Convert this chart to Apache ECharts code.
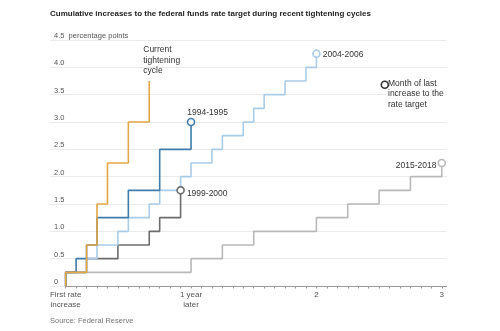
<!DOCTYPE html>
<html>
<head>
<meta charset="utf-8">
<script src="https://cdn.jsdelivr.net/npm/echarts@6/dist/echarts.min.js"></script>
<style>
  html, body { margin: 0; padding: 0; background: #ffffff; }
  #chart { width: 500px; height: 331px; }
</style>
</head>
<body>
<div id="chart"></div>
<script>
// Months after the first rate increase, and the cumulative increase (percentage points)
const currentMonths = [0, 0, 2, 3, 4, 6, 8];
const currentValues = [0, 0.25, 0.75, 1.5, 2.25, 3.0, 3.75];

const c1994Months = [0, 0, 1, 2, 3, 6, 9, 12];
const c1994Values = [0, 0.25, 0.5, 0.75, 1.25, 1.75, 2.5, 3.0];

const c1999Months = [0, 0, 2, 5, 8, 9, 11];
const c1999Values = [0, 0.25, 0.5, 0.75, 1.0, 1.25, 1.75];

const c2004Months = [0, 0, 2, 3, 5, 6, 8, 9, 11, 12, 14, 15, 17, 18, 19, 21, 23, 24];
const c2004Values = [0, 0.25, 0.5, 0.75, 1.0, 1.25, 1.5, 1.75, 2.0, 2.25, 2.5, 2.75, 3.0, 3.25, 3.5, 3.75, 4.0, 4.25];

const c2015Months = [0, 0, 12, 15, 18, 24, 27, 30, 33, 36];
const c2015Values = [0, 0.25, 0.5, 0.75, 1.0, 1.25, 1.5, 1.75, 2.0, 2.25];

// Axis labels
const xTickMonths = [0, 12, 24, 36];
const xTickLabels = ['First rate\nincrease', '1 year\nlater', '2', '3'];
const monthTicks = Array.from({ length: 37 }, (_, i) => i);

const FONT = '"Liberation Sans Narrow", "Liberation Sans", sans-serif';
const TEXT = '"Liberation Sans", sans-serif';

function pairs(ms, vs) { return ms.map((m, i) => [m, vs[i]]); }

function cycleSeries(name, ms, vs, color, z, endMark) {
  const data = pairs(ms, vs);
  const s = {
    name, type: 'line', step: 'end', data, z,
    symbol: 'none', showSymbol: false, silent: true,
    lineStyle: { color, width: 1.6 }
  };
  if (endMark) {
    const last = data[data.length - 1];
    const hidden = endMark.hidden;
    s.markPoint = {
      silent: true,
      symbol: 'circle',
      symbolSize: hidden ? 1 : 7,
      itemStyle: hidden
        ? { color: 'rgba(0,0,0,0)', borderWidth: 0 }
        : { color: '#ffffff', borderColor: color, borderWidth: 1.6 },
      label: Object.assign({
        show: true, formatter: name, color: '#333', fontFamily: TEXT, fontSize: 8.5, lineHeight: 10.5
      }, endMark.label),
      data: [{ coord: last }]
    };
  }
  return s;
}

const chart = echarts.init(document.getElementById('chart'), null, { renderer: 'canvas' });

chart.setOption({
  animation: false,
  title: [
    {
      text: 'Cumulative increases to the federal funds rate target during recent tightening cycles',
      left: 50, top: 10, padding: 0,
      textStyle: { fontFamily: FONT, fontWeight: 'bold', fontSize: 8, color: '#222' }
    },
    {
      text: 'Source: Federal Reserve',
      left: 50, top: 317, padding: 0,
      textStyle: { fontFamily: TEXT, fontWeight: 'normal', fontSize: 7.5, color: '#777' }
    }
  ],
  grid: { left: 50, right: 53, top: 40, bottom: 45, containLabel: false },
  xAxis: {
    type: 'value', min: -1.5, max: 36.5,
    splitLine: { show: false },
    axisLine: { show: false },
    axisTick: { show: true, customValues: monthTicks, length: 2.5, lineStyle: { color: '#999' } },
    axisLabel: {
      customValues: xTickMonths,
      formatter: v => xTickLabels[xTickMonths.indexOf(v)],
      fontFamily: FONT, fontSize: 8, color: '#555', lineHeight: 10, margin: 4
    }
  },
  yAxis: {
    type: 'value', min: 0, max: 4.5, interval: 0.5,
    axisLine: { show: false }, axisTick: { show: false },
    splitLine: { lineStyle: { color: '#ebebeb', width: 1 } },
    axisLabel: {
      inside: true, margin: 4, verticalAlign: 'bottom',
      fontFamily: FONT, fontSize: 7.5, color: '#555',
      formatter: v => v === 0 ? '0' : (v === 4.5 ? '4.5  percentage points' : v.toFixed(1))
    }
  },
  graphic: [
    {
      type: 'text', left: 386, top: 77, z: 10,
      style: {
        text: 'Month of last\nincrease to the\nrate target', fontFamily: TEXT, fontSize: 8.5, lineHeight: 10.5,
        fill: '#333', backgroundColor: '#ffffff', padding: [1, 2, 1, 2]
      }
    },
    {
      type: 'circle', left: 380.5, top: 80.5, z: 11,
      shape: { r: 3.5 }, style: { fill: '#fff', stroke: '#333', lineWidth: 1.6 }
    }
  ],
  series: [
    cycleSeries('2015-2018', c2015Months, c2015Values, '#b9b9b9', 1,
      { label: { position: 'left', distance: 2, offset: [1, 3] } }),
    cycleSeries('1999-2000', c1999Months, c1999Values, '#6c6c6c', 2,
      { label: { position: 'right', distance: 2, offset: [0, 3] } }),
    cycleSeries('2004-2006', c2004Months, c2004Values, '#a9cce8', 3,
      { label: { position: 'right', distance: 2, offset: [0, 1] } }),
    cycleSeries('1994-1995', c1994Months, c1994Values, '#3f7cab', 4,
      { label: { position: 'right', distance: 0, offset: [-8, -9] } }),
    cycleSeries('Current tightening cycle', currentMonths, currentValues, '#e3a647', 5,
      { hidden: true, label: { formatter: 'Current\ntightening\ncycle', position: 'inside', align: 'left', verticalAlign: 'bottom', offset: [-6, -5] } }),
    {
      // Baseline of the month axis, starting at the first rate increase
      type: 'line', silent: true, data: [], z: 6,
      markLine: {
        silent: true, symbol: 'none', label: { show: false },
        lineStyle: { color: '#999', width: 1, type: 'solid' },
        data: [[{ coord: [0, 0] }, { coord: [36.5, 0] }]]
      }
    }
  ]
});
</script>
</body>
</html>
